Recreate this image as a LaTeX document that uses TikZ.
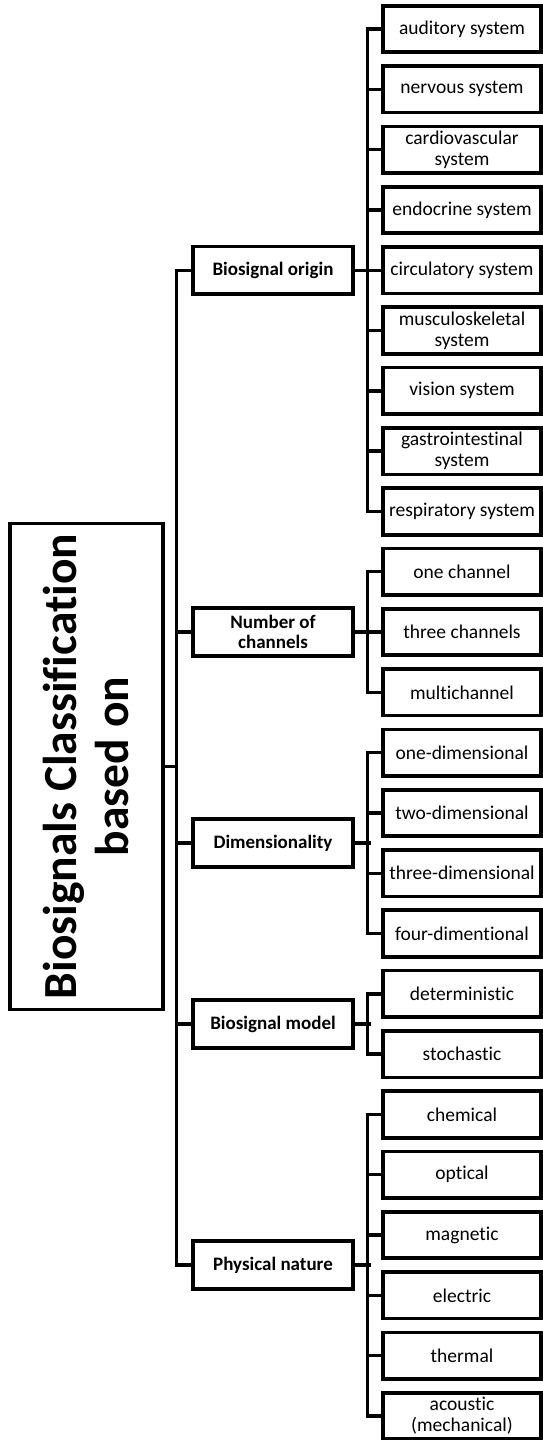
\documentclass[tikz,border=0pt]{standalone}
\usepackage{fontspec}
\setmainfont{Carlito}[Ligatures={TeX,NoCommon}]
\tikzset{
  leaf/.style={draw, line width=3.7pt, minimum width=157.5pt, minimum height=46.5pt, inner sep=0pt, align=center, font=\fontsize{19.5}{21}\selectfont},
  mid/.style={draw, line width=3.7pt, minimum width=159.5pt, minimum height=47.5pt, inner sep=0pt, align=center, font=\bfseries\fontsize{19}{20}\selectfont},
  rootbox/.style={draw, line width=3.7pt, rotate=90, minimum width=486pt, minimum height=152.5pt, inner sep=0pt, align=center, font=\bfseries\fontsize{47.5}{52}\selectfont},
  conn/.style={line width=3.4pt}
}
\begin{document}
\begin{tikzpicture}[x=1pt,y=-1pt]
\useasboundingbox (0,0) rectangle (543,1440);
% leaves
\foreach \t [count=\i] in {auditory system, nervous system, {cardiovascular\\system}, endocrine system, circulatory system, {musculoskeletal\\system}, vision system, {gastrointestinal\\system}, respiratory system, one channel, three channels, multichannel, one-dimensional, two-dimensional, three-dimensional, four-dimentional, deterministic, stochastic, chemical, optical, magnetic, electric, thermal, {acoustic\\(mechanical)}}
  \node[leaf] (l\i) at (462,{29+60.3*(\i-1)}) {\t};
% middle nodes
\node[mid] (origin) at (273,270.2) {Biosignal origin};
\node[mid] (channels) at (273,632) {Number of\\channels};
\node[mid] (dim) at (273,843) {Dimensionality};
\node[mid] (model) at (273,1024) {Biosignal model};
\node[mid] (phys) at (273,1265) {Physical nature};
% root
\node[rootbox] (root) at (86.5,766.5) {Biosignals Classification\\based on};
\coordinate (trunk) at (178,0);
% trunk
\draw[conn] (origin.west) -- ++(-15,0) |- (phys.west);
\draw[conn] (channels.west) -- ++(-15,0);
\draw[conn] (dim.west) -- ++(-15,0);
\draw[conn] (model.west) -- ++(-15,0);
\draw[conn] (root.south) -- (root.south -| trunk);
% mid to bus
\foreach \m in {origin,channels,dim,model,phys}
  \draw[conn] (\m.east) -- ++(16,0);
% buses
\draw[conn] (l1.west) -- ++(-14,0) |- (l9.west);
\draw[conn] (l10.west) -- ++(-14,0) |- (l12.west);
\draw[conn] (l13.west) -- ++(-14,0) |- (l16.west);
\draw[conn] (l17.west) -- ++(-14,0) |- (l18.west);
\draw[conn] (l19.west) -- ++(-14,0) |- (l24.west);
\foreach \i in {2,...,8,11,14,15,20,21,22,23}
  \draw[conn] (l\i.west) -- ++(-14,0);
\end{tikzpicture}
\end{document}
